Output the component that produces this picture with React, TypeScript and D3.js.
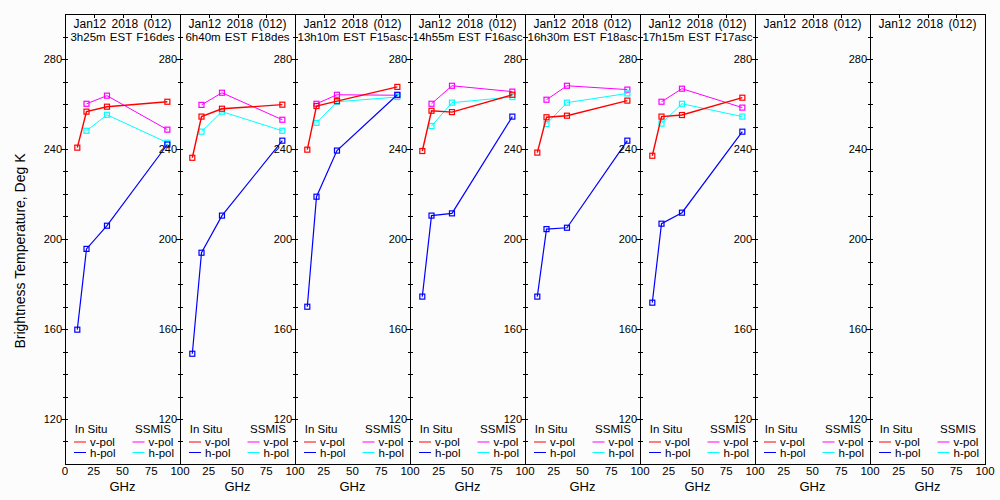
import * as d3 from 'd3';
import React from 'react';

// frequencies, GHz
const inSituFreq = [10.7, 18.7, 36.5, 89];
const ssmisFreq = [18.7, 36.5, 89];

const dateLabel = 'Jan12 2018 (012)';
const passLabels = [
  '3h25m EST F16des',
  '6h40m EST F18des',
  '13h10m EST F15asc',
  '14h55m EST F16asc',
  '16h30m EST F18asc',
  '17h15m EST F17asc',
  '',
  '',
];

// brightness temperatures, K (one row per panel, empty = no data)
const inSituV = [
  [240.6, 256.6, 258.8, 261.0],
  [236.1, 254.4, 257.9, 259.7],
  [239.7, 259.1, 261.3, 267.6],
  [239.1, 257.0, 256.4, 264.1],
  [238.4, 254.1, 254.8, 261.5],
  [237.0, 254.4, 255.1, 262.8],
  [],
  [],
];
const inSituH = [
  [159.7, 195.6, 205.9, 242.0],
  [149.0, 193.9, 210.4, 243.7],
  [169.9, 218.8, 239.3, 264.1],
  [174.4, 210.4, 211.4, 254.4],
  [174.4, 204.4, 205.0, 243.7],
  [171.7, 206.8, 211.7, 247.7],
  [],
  [],
];
const ssmisV = [
  [260.1, 263.7, 248.6],
  [259.6, 265.0, 253.0],
  [260.1, 264.1, 263.9],
  [260.1, 268.1, 265.5],
  [261.9, 268.1, 266.4],
  [261.0, 266.8, 258.4],
  [],
  [],
];
const ssmisH = [
  [248.1, 255.2, 242.8],
  [247.7, 256.6, 248.1],
  [251.6, 261.0, 263.1],
  [250.2, 260.6, 263.1],
  [251.1, 260.6, 264.7],
  [251.3, 260.1, 254.4],
  [],
  [],
];

const xTicks = [0, 25, 50, 75, 100];
const yLabelTicks = [120, 160, 200, 240, 280];

const W = 1000;
const H = 500;
const left0 = 65;
const panelW = 115;
const top = 14;
const bottom = 464;
const font = '"Liberation Sans", Arial, sans-serif';

const y = d3.scaleLinear().domain([100, 300]).range([bottom, top]);
const yMinor = d3.range(110, 300, 10);

function Series({ x, freq, vals, color, width }: { x: d3.ScaleLinear<number, number>; freq: number[]; vals: number[]; color: string; width: number }) {
  if (!vals.length) return null;
  const pts = vals.map((v, i) => [x(freq[i]), y(v)] as [number, number]);
  const line = d3.line();
  return (
    <g>
      <path d={line(pts) ?? ''} fill="none" stroke={color} strokeWidth={width} />
      {pts.map(([px, py], i) => (
        <rect key={i} x={px - 2.5} y={py - 2.5} width={5} height={5} fill="none" stroke={color} strokeWidth={1.2} />
      ))}
    </g>
  );
}

function Panel({ i }: { i: number }) {
  const x0 = left0 + i * panelW;
  const x = d3.scaleLinear().domain([0, 100]).range([x0, x0 + panelW]);
  const cx = x0 + panelW / 2;
  const legendY = 433;
  // the "0" of later panels sits under the previous panel's "100"
  const labelTicks = i === 0 ? xTicks : xTicks.slice(1);
  return (
    <g>
      <rect x={x0 + 0.5} y={top + 0.5} width={panelW} height={bottom - top} fill="none" stroke="#000" strokeWidth={1} shapeRendering="crispEdges" />
      {/* top ticks */}
      {xTicks.slice(1, -1).map(t => (
        <line key={t} x1={Math.round(x(t)) + 0.5} x2={Math.round(x(t)) + 0.5} y1={top} y2={top + 4} stroke="#000" shapeRendering="crispEdges" />
      ))}
      {/* y ticks */}
      {yMinor.map(t => (
        <line key={t} x1={x0 - 2} x2={x0 + 3} y1={Math.round(y(t)) + 0.5} y2={Math.round(y(t)) + 0.5} stroke="#000" shapeRendering="crispEdges" />
      ))}
      {yLabelTicks.map(t => (
        <g key={t}>
          <line x1={x0 - 4} x2={x0} y1={Math.round(y(t)) + 0.5} y2={Math.round(y(t)) + 0.5} stroke="#000" shapeRendering="crispEdges" />
          <text x={x0 - 3} y={y(t)} dy="0.36em" textAnchor="end" fontSize={11} fontFamily={font}>{t}</text>
        </g>
      ))}
      {/* x labels */}
      {labelTicks.map(t => (
        <text key={t} x={x(t)} y={475} textAnchor="middle" fontSize={11.5} fontFamily={font}>{t}</text>
      ))}
      <text x={cx} y={491} textAnchor="middle" fontSize={13} fontFamily={font}>GHz</text>
      {/* titles */}
      <text x={cx} y={28} textAnchor="middle" fontSize={12} fontFamily={font} style={{ wordSpacing: '2px' }}>{dateLabel}</text>
      {passLabels[i] && (
        <text x={cx} y={41} textAnchor="middle" fontSize={11.5} fontFamily={font} style={{ wordSpacing: '1px' }}>{passLabels[i]}</text>
      )}
      {/* data */}
      <Series x={x} freq={ssmisFreq} vals={ssmisV[i]} color="#ff00ff" width={1} />
      <Series x={x} freq={ssmisFreq} vals={ssmisH[i]} color="#00ffff" width={1} />
      <Series x={x} freq={inSituFreq} vals={inSituV[i]} color="#ff0000" width={1.4} />
      <Series x={x} freq={inSituFreq} vals={inSituH[i]} color="#0000ff" width={1.2} />
      {/* legend */}
      <text x={x0 + 26} y={legendY} textAnchor="middle" fontSize={11.5} fontFamily={font}>In Situ</text>
      <text x={x0 + 88} y={legendY} textAnchor="middle" fontSize={11.5} fontFamily={font}>SSMIS</text>
      {[
        { lx: x0 + 9, c: '#ff0000', t: 'v-pol', row: 0 },
        { lx: x0 + 9, c: '#0000ff', t: 'h-pol', row: 1 },
        { lx: x0 + 67.5, c: '#ff00ff', t: 'v-pol', row: 0 },
        { lx: x0 + 67.5, c: '#00ffff', t: 'h-pol', row: 1 },
      ].map((l, k) => {
        const ly = 442 + l.row * 10.5;
        return (
          <g key={k}>
            <line x1={l.lx} x2={l.lx + 12} y1={ly} y2={ly} stroke={l.c} strokeWidth={1} />
            <text x={l.lx + 16} y={ly} dy="0.36em" fontSize={11.5} fontFamily={font}>{l.t}</text>
          </g>
        );
      })}
    </g>
  );
}

export default function App() {
  return (
    <svg width={W} height={H} style={{ position: 'absolute', left: 0, top: 0, background: '#fcfcfc' }}>
      <rect width={W} height={H} fill="#fcfcfc" />
      <text
        transform={`translate(25,251) rotate(-90)`}
        textAnchor="middle"
        fontSize={14}
        fontFamily={font}
      >
        Brightness Temperature, Deg K
      </text>
      {passLabels.map((_, i) => (
        <Panel key={i} i={i} />
      ))}
    </svg>
  );
}
